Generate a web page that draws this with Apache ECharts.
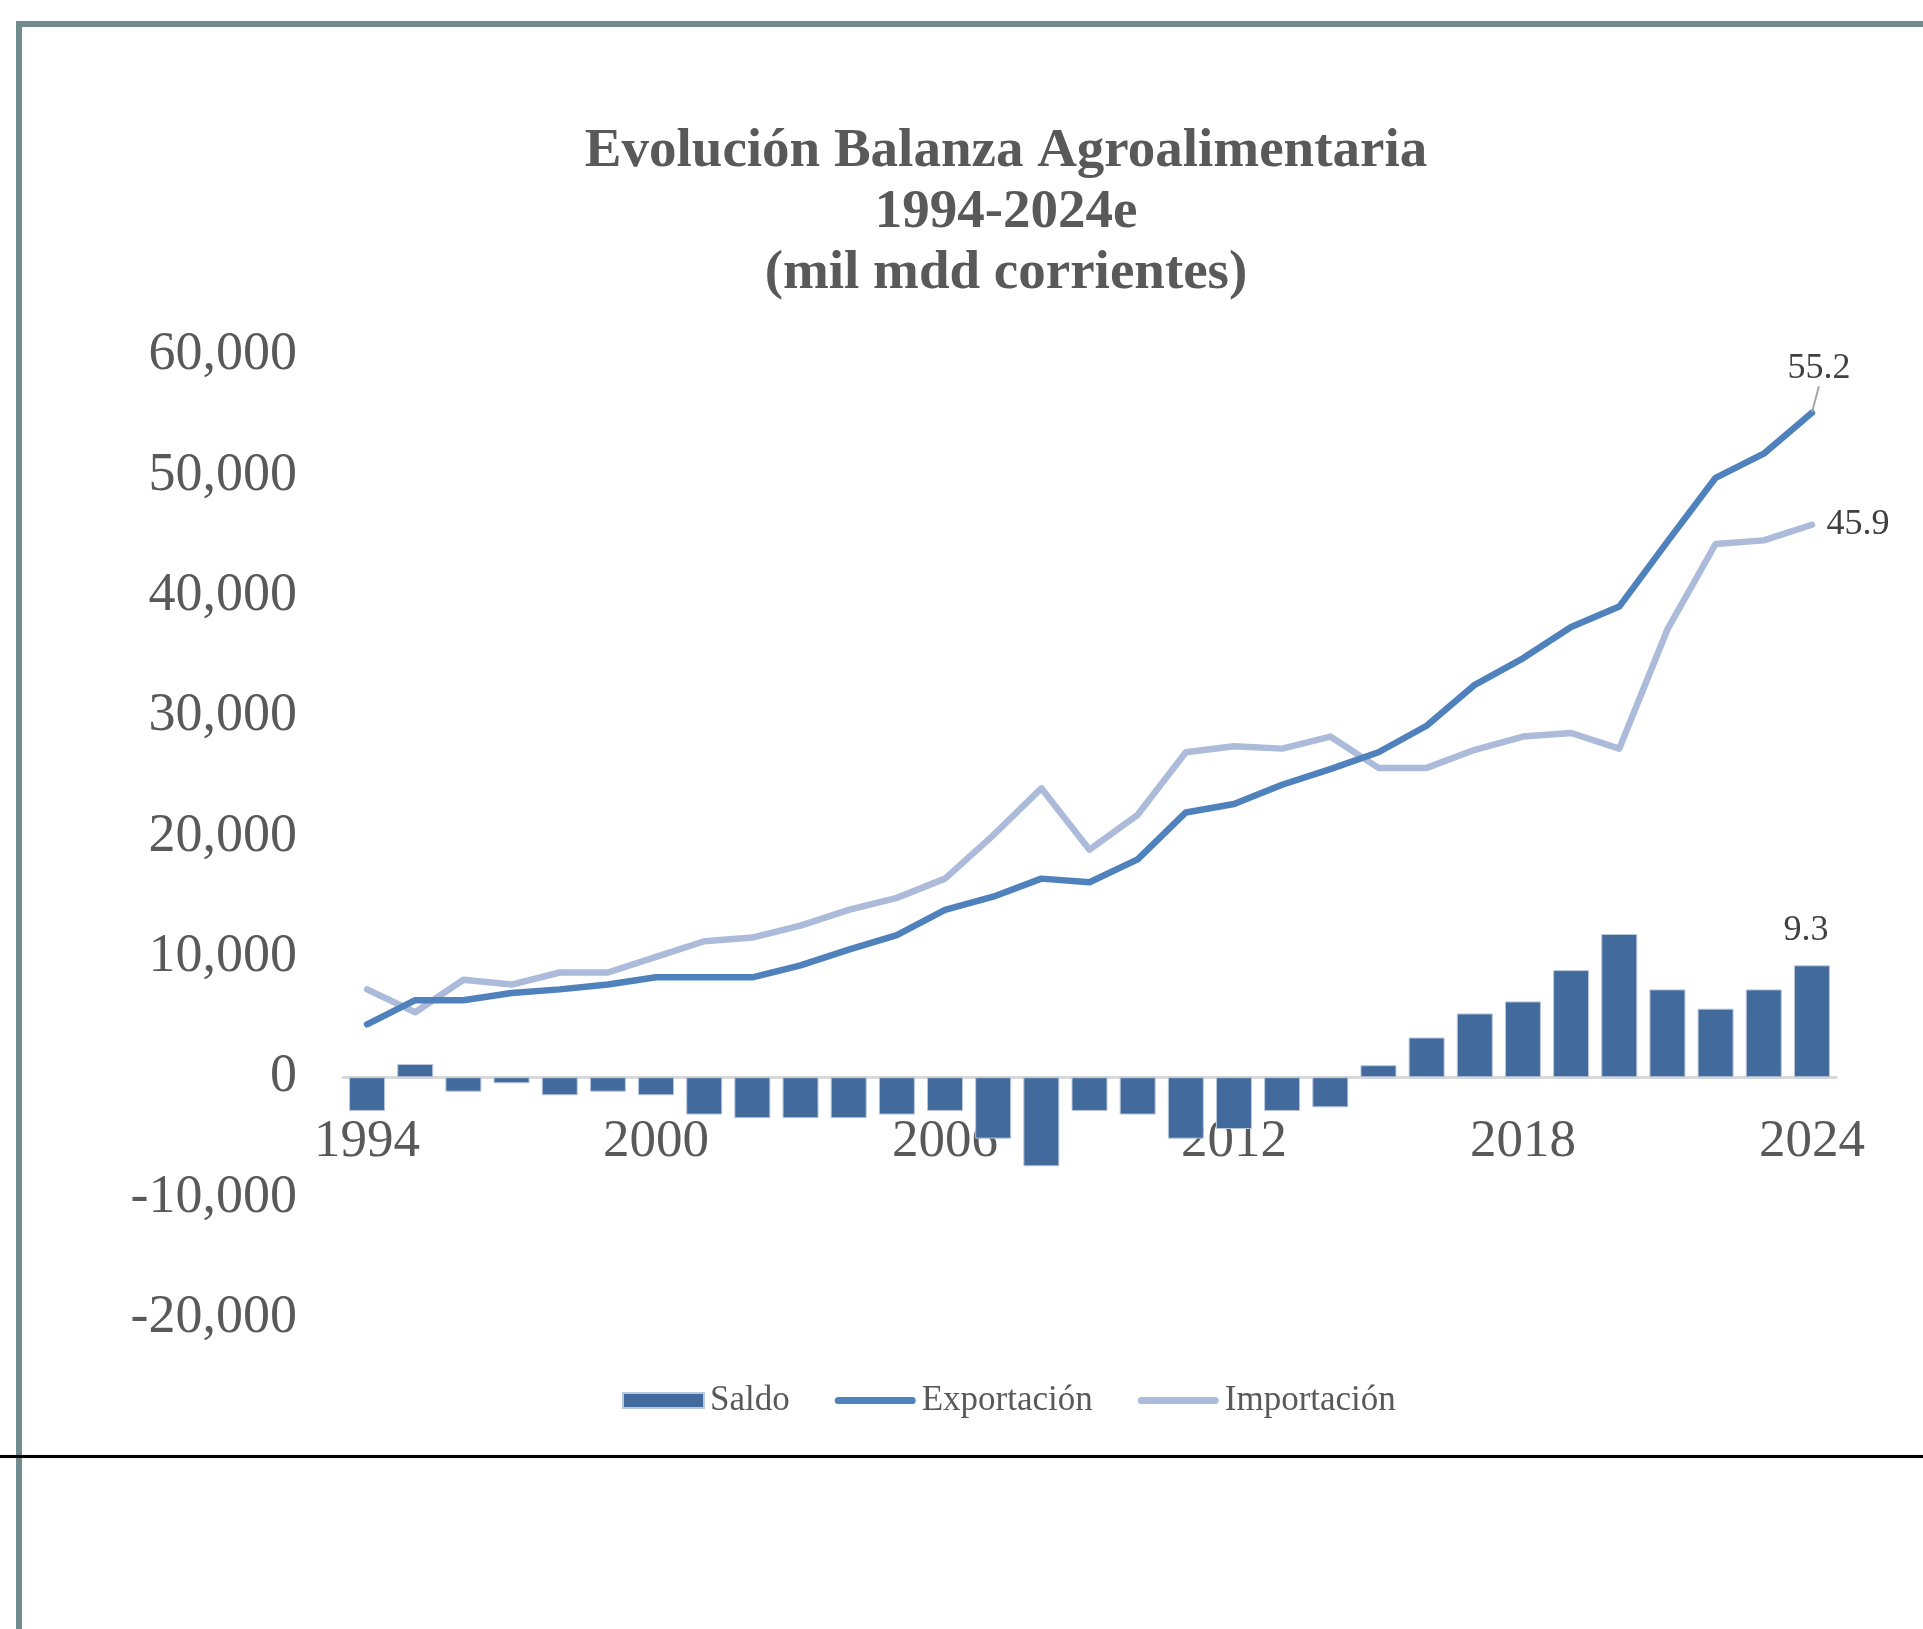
<!DOCTYPE html>
<html>
<head>
<meta charset="utf-8">
<title>Evolución Balanza Agroalimentaria 1994-2024e</title>
<script src="https://cdn.jsdelivr.net/npm/echarts@6/dist/echarts.min.js"></script>
<style>
  html, body { margin: 0; padding: 0; background: #ffffff; }
  body { width: 1923px; height: 1629px; position: relative; overflow: hidden; }
  #chart { position: absolute; left: 0; top: 0; width: 1923px; height: 1629px; }
  .frame-top { position: absolute; left: 16px; top: 21px; width: 1907px; height: 6px; background: #718b8e; }
  .frame-left { position: absolute; left: 16px; top: 21px; width: 6px; height: 1608px; background: #718b8e; }
  .rule { position: absolute; left: 0; top: 1455px; width: 1923px; height: 3px; background: #000000; box-shadow: 0 0 1px #777; }
</style>
</head>
<body>
<div class="frame-top"></div>
<div class="frame-left"></div>
<div class="rule"></div>
<div id="chart"></div>
<script>
// Years on the category axis
const years = ['1994','1995','1996','1997','1998','1999','2000','2001','2002','2003',
  '2004','2005','2006','2007','2008','2009','2010','2011','2012','2013',
  '2014','2015','2016','2017','2018','2019','2020','2021','2022','2023','2024'];

// Trade balance (millones de dólares)
const saldo = [-2800, 1100, -1200, -500, -1500, -1200, -1500, -3100, -3400, -3400,
  -3400, -3100, -2800, -5100, -7400, -2800, -3100, -5100, -4300, -2800,
  -2500, 1000, 3300, 5300, 6300, 8900, 11900, 7300, 5700, 7300, 9300];

// Agri-food exports
const exportacion = [4400, 6400, 6400, 7000, 7300, 7700, 8300, 8300, 8300, 9300,
  10600, 11800, 13900, 15000, 16500, 16200, 18100, 22000, 22700, 24300,
  25600, 27000, 29200, 32600, 34800, 37400, 39100, 44500, 49800, 51800, 55200];

// Agri-food imports
const importacion = [7300, 5400, 8100, 7700, 8700, 8700, 10000, 11300, 11600, 12600,
  13900, 14900, 16500, 20100, 24000, 18900, 21800, 27000, 27500, 27300,
  28300, 25700, 25700, 27200, 28300, 28600, 27300, 37200, 44300, 44600, 45900];

// Value-axis ticks
const yTicks = { min: -20000, max: 60000, step: 10000 };

const serif = '"Liberation Serif", "Times New Roman", serif';
const labelColor = '#404040';
const axisColor = '#595959';

// Plot box
const grid = { left: 343, right: 87, top: 355, bottom: 311 };
const plotHeight = 1629 - grid.top - grid.bottom;
// Year labels sit just under the zero line rather than at the bottom of the plot
const zeroFromBottom = plotHeight * (0 - yTicks.min) / (yTicks.max - yTicks.min);

// Only the last point of each series carries a label, shown in miles de millones
const toBillions = p => (p.value / 1000).toFixed(1);
function withLastLabel(values, labelOpts, extra) {
  return values.map((v, i) => i === values.length - 1
    ? Object.assign({ value: v, label: Object.assign({ show: true }, labelOpts) }, extra || {})
    : v);
}

const labelText = { fontFamily: serif, fontSize: 36, color: labelColor, formatter: toBillions };
const leader = { show: true, length2: 0, lineStyle: { color: '#a6a6a6', width: 2 } };

// Rounded bar used as the legend key of the two lines
const lineKey = 'path://M3.5,0 H77.5 A3.5,3.5 0 0 1 77.5,7 H3.5 A3.5,3.5 0 0 1 3.5,0 Z';

const chart = echarts.init(document.getElementById('chart'), null, { renderer: 'canvas' });
chart.setOption({
  backgroundColor: 'transparent',
  animation: false,
  title: {
    text: 'Evolución Balanza Agroalimentaria\n1994-2024e\n(mil mdd corrientes)',
    left: 1001,
    top: 116,
    textAlign: 'center',
    textStyle: {
      fontFamily: serif,
      fontWeight: 'bold',
      fontSize: 55,
      lineHeight: 61,
      color: '#595959'
    }
  },
  legend: {
    left: 617,
    top: 1378,
    itemWidth: 81,
    itemHeight: 15,
    itemGap: 45,
    symbolKeepAspect: true,
    textStyle: { fontFamily: serif, fontSize: 35, color: axisColor, padding: [0, 0, 0, 1] },
    data: [
      { name: 'Saldo', icon: 'rect' },
      { name: 'Exportación', icon: lineKey },
      { name: 'Importación', icon: lineKey }
    ]
  },
  grid: grid,
  xAxis: {
    type: 'category',
    data: years,
    boundaryGap: true,
    axisTick: { show: false },
    axisLine: { onZero: true, lineStyle: { color: '#d9d9d9', width: 3 } },
    axisLabel: {
      interval: 5,
      fontFamily: serif,
      fontSize: 53,
      color: axisColor,
      margin: 38 - zeroFromBottom
    },
    splitLine: { show: false }
  },
  yAxis: {
    type: 'value',
    min: yTicks.min,
    max: yTicks.max,
    interval: yTicks.step,
    axisLine: { show: false },
    axisTick: { show: false },
    splitLine: { show: false },
    axisLabel: {
      fontFamily: serif,
      fontSize: 54,
      color: axisColor,
      margin: 46,
      formatter: v => v.toLocaleString('en-US')
    }
  },
  series: [
    {
      name: 'Saldo',
      type: 'bar',
      barWidth: 36,
      itemStyle: { color: '#426a9d', borderColor: '#b9c8de', borderWidth: 1 },
      data: withLastLabel(saldo, Object.assign({ position: 'top', distance: 17, offset: [-6, 0] }, labelText)),
      z: 2
    },
    {
      name: 'Exportación',
      type: 'line',
      symbol: 'circle',
      symbolSize: 1,
      lineStyle: { color: '#4f81bd', width: 6.5, cap: 'round', join: 'round' },
      itemStyle: { color: '#4f81bd' },
      data: withLastLabel(exportacion, Object.assign({ position: 'top', distance: 26 }, labelText),
        { labelLine: leader }),
      labelLayout: { dx: 7 },
      labelLine: leader,
      z: 4
    },
    {
      name: 'Importación',
      type: 'line',
      symbol: 'circle',
      symbolSize: 1,
      lineStyle: { color: '#abbbd9', width: 6.5, cap: 'round', join: 'round' },
      itemStyle: { color: '#abbbd9' },
      data: withLastLabel(importacion, Object.assign({ position: 'right', distance: 14 }, labelText)),
      z: 3
    }
  ]
});
</script>
</body>
</html>
